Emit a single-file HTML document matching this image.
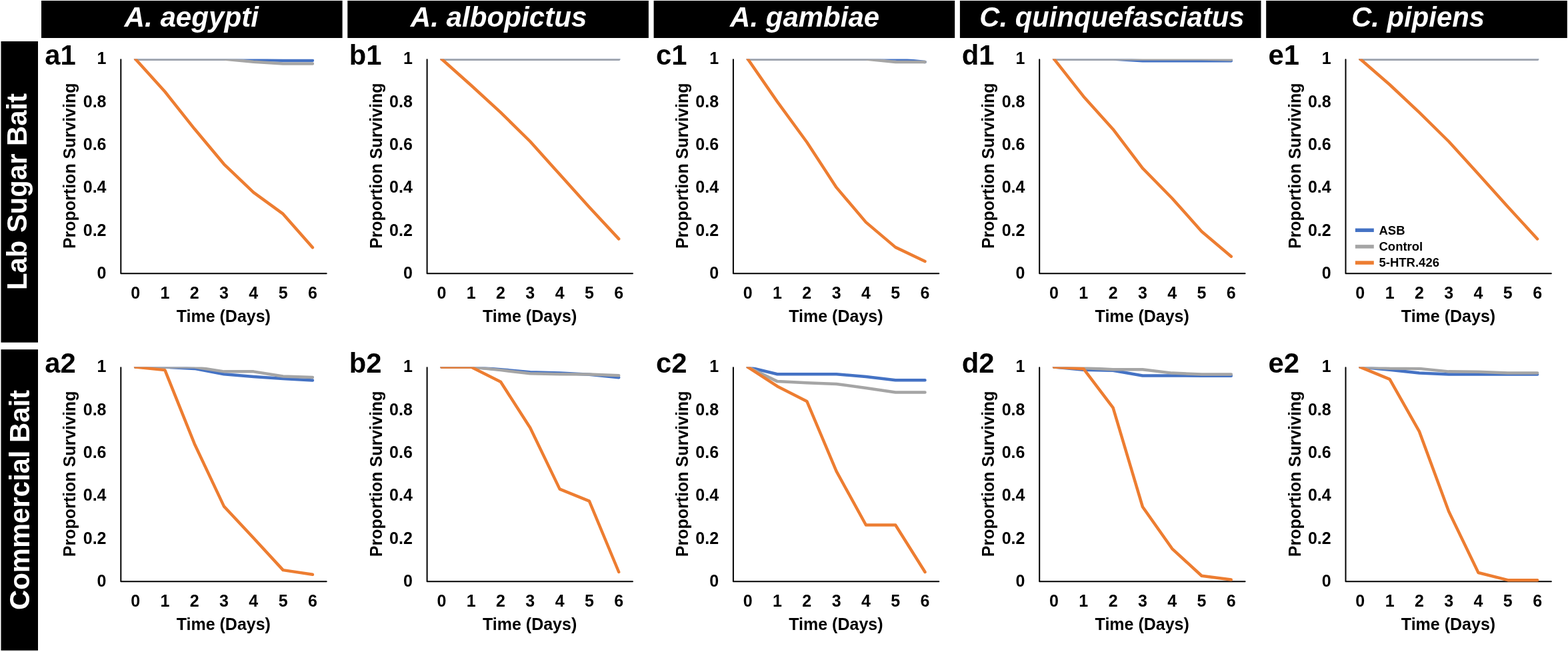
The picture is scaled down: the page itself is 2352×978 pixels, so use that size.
<!DOCTYPE html>
<html><head><meta charset="utf-8"><title>Survival of mosquito species on sugar baits</title>
<style>
html,body{margin:0;padding:0;background:#fff;overflow:hidden;}
svg{display:block;}
text{font-family:"Liberation Sans",Arial,sans-serif;font-weight:bold;fill:#000;}
.tk{font-size:25px;}
.tt{font-size:25px;}
.yt{font-size:25px;}
.pl{font-size:41.8px;}
.hd{font-size:42.3px;font-style:italic;fill:#fff;}
.sd{font-size:41.8px;fill:#fff;}
.lg{font-size:18.5px;}
.ser{fill:none;stroke-width:4.5;stroke-linecap:round;stroke-linejoin:round;}
.ax{fill:none;stroke:#000;stroke-width:2;stroke-linecap:round;stroke-linejoin:round;}
</style></head><body>
<svg width="2352" height="978" viewBox="0 0 2352 978">
<defs><clipPath id="pc"><rect x="170" y="88.45" width="340" height="340"/></clipPath></defs>
<rect width="2352" height="978" fill="#fff"/>
<rect x="62" y="1" width="451.6" height="56" fill="#000"/>
<text class="hd" x="287.3" y="40" text-anchor="middle" textLength="201.5" lengthAdjust="spacingAndGlyphs">A. aegypti</text>
<rect x="521.3" y="1" width="451.6" height="56" fill="#000"/>
<text class="hd" x="748.1" y="40" text-anchor="middle" textLength="264.7" lengthAdjust="spacingAndGlyphs">A. albopictus</text>
<rect x="980.6" y="1" width="451.6" height="56" fill="#000"/>
<text class="hd" x="1207.1" y="40" text-anchor="middle" textLength="224.0" lengthAdjust="spacingAndGlyphs">A. gambiae</text>
<rect x="1439.9" y="1" width="451.6" height="56" fill="#000"/>
<text class="hd" x="1667.95" y="40" text-anchor="middle" textLength="397.2" lengthAdjust="spacingAndGlyphs">C. quinquefasciatus</text>
<rect x="1899.2" y="1" width="451.6" height="56" fill="#000"/>
<text class="hd" x="2127.05" y="40" text-anchor="middle" textLength="199.8" lengthAdjust="spacingAndGlyphs">C. pipiens</text>
<rect x="1.5" y="62" width="55.5" height="451.7" fill="#000"/>
<rect x="1.5" y="524.2" width="55.5" height="451.5" fill="#000"/>
<text class="sd" transform="translate(40.2 287.5) rotate(-90)" text-anchor="middle">Lab Sugar Bait</text>
<text class="sd" transform="translate(44.2 750) rotate(-90)" text-anchor="middle">Commercial Bait</text>
<g transform="translate(0 0)">
<text class="pl" x="67.3" y="97.3">a1</text>
<text class="tk" x="159.5" y="417.9" text-anchor="end">0</text>
<text class="tk" x="159.5" y="353.55" text-anchor="end">0.2</text>
<text class="tk" x="159.5" y="289.2" text-anchor="end">0.4</text>
<text class="tk" x="159.5" y="224.85" text-anchor="end">0.6</text>
<text class="tk" x="159.5" y="160.5" text-anchor="end">0.8</text>
<text class="tk" x="159.5" y="96.15" text-anchor="end">1</text>
<text class="tk" x="203.1" y="448.3" text-anchor="middle">0</text>
<text class="tk" x="247.4" y="448.3" text-anchor="middle">1</text>
<text class="tk" x="291.7" y="448.3" text-anchor="middle">2</text>
<text class="tk" x="336" y="448.3" text-anchor="middle">3</text>
<text class="tk" x="380.3" y="448.3" text-anchor="middle">4</text>
<text class="tk" x="424.6" y="448.3" text-anchor="middle">5</text>
<text class="tk" x="468.9" y="448.3" text-anchor="middle">6</text>
<text class="tt" x="335.3" y="483" text-anchor="middle">Time (Days)</text>
<text class="yt" transform="translate(113.3 248.8) rotate(-90)" text-anchor="middle">Proportion Surviving</text>
<path class="ax" d="M181.3 89.2V410.2H489.7"/>
<g clip-path="url(#pc)">
<polyline class="ser" stroke="#4472C4" points="203.1,88.45 247.4,88.45 291.7,88.45 336,88.45 380.3,89.82 424.6,90.78 468.9,90.78"/>
<polyline class="ser" stroke="#A5A5A5" points="203.1,88.45 247.4,88.45 291.7,88.45 336,88.45 380.3,92.7 424.6,95.59 468.9,95.59"/>
<polyline class="ser" stroke="#ED7D31" points="203.1,88.45 247.4,137.48 291.7,193.31 336,246.3 380.3,288.61 424.6,320.91 468.9,371.2"/>
</g>
</g>
<g transform="translate(459.3 0)">
<text class="pl" x="64.5" y="97.3">b1</text>
<text class="tk" x="159.5" y="417.9" text-anchor="end">0</text>
<text class="tk" x="159.5" y="353.55" text-anchor="end">0.2</text>
<text class="tk" x="159.5" y="289.2" text-anchor="end">0.4</text>
<text class="tk" x="159.5" y="224.85" text-anchor="end">0.6</text>
<text class="tk" x="159.5" y="160.5" text-anchor="end">0.8</text>
<text class="tk" x="159.5" y="96.15" text-anchor="end">1</text>
<text class="tk" x="203.1" y="448.3" text-anchor="middle">0</text>
<text class="tk" x="247.4" y="448.3" text-anchor="middle">1</text>
<text class="tk" x="291.7" y="448.3" text-anchor="middle">2</text>
<text class="tk" x="336" y="448.3" text-anchor="middle">3</text>
<text class="tk" x="380.3" y="448.3" text-anchor="middle">4</text>
<text class="tk" x="424.6" y="448.3" text-anchor="middle">5</text>
<text class="tk" x="468.9" y="448.3" text-anchor="middle">6</text>
<text class="tt" x="335.3" y="483" text-anchor="middle">Time (Days)</text>
<text class="yt" transform="translate(113.3 248.8) rotate(-90)" text-anchor="middle">Proportion Surviving</text>
<path class="ax" d="M181.3 89.2V410.2H489.7"/>
<g clip-path="url(#pc)">
<polyline class="ser" stroke="#4472C4" points="203.1,88.45 247.4,88.45 291.7,88.45 336,88.45 380.3,88.45 424.6,88.45 468.9,88.45"/>
<polyline class="ser" stroke="#A5A5A5" points="203.1,88.45 247.4,88.45 291.7,88.45 336,88.45 380.3,88.45 424.6,88.45 468.9,88.45"/>
<polyline class="ser" stroke="#ED7D31" points="203.1,88.45 247.4,127.96 291.7,168.66 336,212.25 380.3,261.61 424.6,310.64 468.9,358.4"/>
</g>
</g>
<g transform="translate(918.6 0)">
<text class="pl" x="65.4" y="97.3">c1</text>
<text class="tk" x="159.5" y="417.9" text-anchor="end">0</text>
<text class="tk" x="159.5" y="353.55" text-anchor="end">0.2</text>
<text class="tk" x="159.5" y="289.2" text-anchor="end">0.4</text>
<text class="tk" x="159.5" y="224.85" text-anchor="end">0.6</text>
<text class="tk" x="159.5" y="160.5" text-anchor="end">0.8</text>
<text class="tk" x="159.5" y="96.15" text-anchor="end">1</text>
<text class="tk" x="203.1" y="448.3" text-anchor="middle">0</text>
<text class="tk" x="247.4" y="448.3" text-anchor="middle">1</text>
<text class="tk" x="291.7" y="448.3" text-anchor="middle">2</text>
<text class="tk" x="336" y="448.3" text-anchor="middle">3</text>
<text class="tk" x="380.3" y="448.3" text-anchor="middle">4</text>
<text class="tk" x="424.6" y="448.3" text-anchor="middle">5</text>
<text class="tk" x="468.9" y="448.3" text-anchor="middle">6</text>
<text class="tt" x="335.3" y="483" text-anchor="middle">Time (Days)</text>
<text class="yt" transform="translate(113.3 248.8) rotate(-90)" text-anchor="middle">Proportion Surviving</text>
<path class="ax" d="M181.3 89.2V410.2H489.7"/>
<g clip-path="url(#pc)">
<polyline class="ser" stroke="#4472C4" points="203.1,88.45 247.4,88.45 291.7,88.45 336,88.45 380.3,88.45 424.6,88.45 468.9,93.02"/>
<polyline class="ser" stroke="#A5A5A5" points="203.1,88.45 247.4,88.45 291.7,88.45 336,88.45 380.3,88.45 424.6,93.03 468.9,93.03"/>
<polyline class="ser" stroke="#ED7D31" points="203.1,88.45 247.4,152.64 291.7,213.21 336,281.16 380.3,333.4 424.6,370.9 468.9,392.05"/>
</g>
</g>
<g transform="translate(1377.9 0)">
<text class="pl" x="64.8" y="97.3">d1</text>
<text class="tk" x="159.5" y="417.9" text-anchor="end">0</text>
<text class="tk" x="159.5" y="353.55" text-anchor="end">0.2</text>
<text class="tk" x="159.5" y="289.2" text-anchor="end">0.4</text>
<text class="tk" x="159.5" y="224.85" text-anchor="end">0.6</text>
<text class="tk" x="159.5" y="160.5" text-anchor="end">0.8</text>
<text class="tk" x="159.5" y="96.15" text-anchor="end">1</text>
<text class="tk" x="203.1" y="448.3" text-anchor="middle">0</text>
<text class="tk" x="247.4" y="448.3" text-anchor="middle">1</text>
<text class="tk" x="291.7" y="448.3" text-anchor="middle">2</text>
<text class="tk" x="336" y="448.3" text-anchor="middle">3</text>
<text class="tk" x="380.3" y="448.3" text-anchor="middle">4</text>
<text class="tk" x="424.6" y="448.3" text-anchor="middle">5</text>
<text class="tk" x="468.9" y="448.3" text-anchor="middle">6</text>
<text class="tt" x="335.3" y="483" text-anchor="middle">Time (Days)</text>
<text class="yt" transform="translate(113.3 248.8) rotate(-90)" text-anchor="middle">Proportion Surviving</text>
<path class="ax" d="M181.3 89.2V410.2H489.7"/>
<g clip-path="url(#pc)">
<polyline class="ser" stroke="#4472C4" points="203.1,88.45 247.4,88.45 291.7,88.45 336,91.35 380.3,91.35 424.6,91.35 468.9,91.35"/>
<polyline class="ser" stroke="#A5A5A5" points="203.1,88.45 247.4,88.45 291.7,88.45 336,88.45 380.3,88.45 424.6,88.45 468.9,89.42"/>
<polyline class="ser" stroke="#ED7D31" points="203.1,88.45 247.4,144.63 291.7,193.98 336,252.31 380.3,297.5 424.6,347.18 468.9,384.68"/>
</g>
</g>
<g transform="translate(1837.2 0)">
<text class="pl" x="65.3" y="97.3">e1</text>
<text class="tk" x="159.5" y="417.9" text-anchor="end">0</text>
<text class="tk" x="159.5" y="353.55" text-anchor="end">0.2</text>
<text class="tk" x="159.5" y="289.2" text-anchor="end">0.4</text>
<text class="tk" x="159.5" y="224.85" text-anchor="end">0.6</text>
<text class="tk" x="159.5" y="160.5" text-anchor="end">0.8</text>
<text class="tk" x="159.5" y="96.15" text-anchor="end">1</text>
<text class="tk" x="203.1" y="448.3" text-anchor="middle">0</text>
<text class="tk" x="247.4" y="448.3" text-anchor="middle">1</text>
<text class="tk" x="291.7" y="448.3" text-anchor="middle">2</text>
<text class="tk" x="336" y="448.3" text-anchor="middle">3</text>
<text class="tk" x="380.3" y="448.3" text-anchor="middle">4</text>
<text class="tk" x="424.6" y="448.3" text-anchor="middle">5</text>
<text class="tk" x="468.9" y="448.3" text-anchor="middle">6</text>
<text class="tt" x="335.3" y="483" text-anchor="middle">Time (Days)</text>
<text class="yt" transform="translate(113.3 248.8) rotate(-90)" text-anchor="middle">Proportion Surviving</text>
<path class="ax" d="M181.3 89.2V410.2H489.7"/>
<g clip-path="url(#pc)">
<polyline class="ser" stroke="#4472C4" points="203.1,88.45 247.4,88.45 291.7,88.45 336,88.45 380.3,88.45 424.6,88.45 468.9,88.45"/>
<polyline class="ser" stroke="#A5A5A5" points="203.1,88.45 247.4,88.45 291.7,88.45 336,88.45 380.3,88.45 424.6,88.45 468.9,88.45"/>
<polyline class="ser" stroke="#ED7D31" points="203.1,88.45 247.4,127 291.7,168.66 336,212.25 380.3,260.97 424.6,310.32 468.9,358.4"/>
</g>
</g>
<g transform="translate(0 462.1)">
<text class="pl" x="67.3" y="97.3">a2</text>
<text class="tk" x="159.5" y="417.9" text-anchor="end">0</text>
<text class="tk" x="159.5" y="353.55" text-anchor="end">0.2</text>
<text class="tk" x="159.5" y="289.2" text-anchor="end">0.4</text>
<text class="tk" x="159.5" y="224.85" text-anchor="end">0.6</text>
<text class="tk" x="159.5" y="160.5" text-anchor="end">0.8</text>
<text class="tk" x="159.5" y="96.15" text-anchor="end">1</text>
<text class="tk" x="203.1" y="448.3" text-anchor="middle">0</text>
<text class="tk" x="247.4" y="448.3" text-anchor="middle">1</text>
<text class="tk" x="291.7" y="448.3" text-anchor="middle">2</text>
<text class="tk" x="336" y="448.3" text-anchor="middle">3</text>
<text class="tk" x="380.3" y="448.3" text-anchor="middle">4</text>
<text class="tk" x="424.6" y="448.3" text-anchor="middle">5</text>
<text class="tk" x="468.9" y="448.3" text-anchor="middle">6</text>
<text class="tt" x="335.3" y="483" text-anchor="middle">Time (Days)</text>
<text class="yt" transform="translate(113.3 248.8) rotate(-90)" text-anchor="middle">Proportion Surviving</text>
<path class="ax" d="M181.3 89.2V410.2H489.7"/>
<g clip-path="url(#pc)">
<polyline class="ser" stroke="#4472C4" points="203.1,88.45 247.4,88.45 291.7,90.78 336,99.12 380.3,102.96 424.6,105.85 468.9,108.41"/>
<polyline class="ser" stroke="#A5A5A5" points="203.1,88.45 247.4,88.45 291.7,88.45 336,95.27 380.3,95.27 424.6,102.32 468.9,103.92"/>
<polyline class="ser" stroke="#ED7D31" points="203.1,88.45 247.4,93.03 291.7,203.6 336,297.5 380.3,344.94 424.6,393.01 468.9,399.74"/>
</g>
</g>
<g transform="translate(459.3 462.1)">
<text class="pl" x="64.5" y="97.3">b2</text>
<text class="tk" x="159.5" y="417.9" text-anchor="end">0</text>
<text class="tk" x="159.5" y="353.55" text-anchor="end">0.2</text>
<text class="tk" x="159.5" y="289.2" text-anchor="end">0.4</text>
<text class="tk" x="159.5" y="224.85" text-anchor="end">0.6</text>
<text class="tk" x="159.5" y="160.5" text-anchor="end">0.8</text>
<text class="tk" x="159.5" y="96.15" text-anchor="end">1</text>
<text class="tk" x="203.1" y="448.3" text-anchor="middle">0</text>
<text class="tk" x="247.4" y="448.3" text-anchor="middle">1</text>
<text class="tk" x="291.7" y="448.3" text-anchor="middle">2</text>
<text class="tk" x="336" y="448.3" text-anchor="middle">3</text>
<text class="tk" x="380.3" y="448.3" text-anchor="middle">4</text>
<text class="tk" x="424.6" y="448.3" text-anchor="middle">5</text>
<text class="tk" x="468.9" y="448.3" text-anchor="middle">6</text>
<text class="tt" x="335.3" y="483" text-anchor="middle">Time (Days)</text>
<text class="yt" transform="translate(113.3 248.8) rotate(-90)" text-anchor="middle">Proportion Surviving</text>
<path class="ax" d="M181.3 89.2V410.2H489.7"/>
<g clip-path="url(#pc)">
<polyline class="ser" stroke="#4472C4" points="203.1,88.45 247.4,88.45 291.7,92.06 336,96.23 380.3,97.51 424.6,99.76 468.9,104.24"/>
<polyline class="ser" stroke="#A5A5A5" points="203.1,88.45 247.4,88.45 291.7,93.03 336,98.15 380.3,99.12 424.6,99.44 468.9,101.04"/>
<polyline class="ser" stroke="#ED7D31" points="203.1,88.45 247.4,88.45 291.7,110.65 336,179.56 380.3,271.54 424.6,289.49 468.9,395.9"/>
</g>
</g>
<g transform="translate(918.6 462.1)">
<text class="pl" x="65.4" y="97.3">c2</text>
<text class="tk" x="159.5" y="417.9" text-anchor="end">0</text>
<text class="tk" x="159.5" y="353.55" text-anchor="end">0.2</text>
<text class="tk" x="159.5" y="289.2" text-anchor="end">0.4</text>
<text class="tk" x="159.5" y="224.85" text-anchor="end">0.6</text>
<text class="tk" x="159.5" y="160.5" text-anchor="end">0.8</text>
<text class="tk" x="159.5" y="96.15" text-anchor="end">1</text>
<text class="tk" x="203.1" y="448.3" text-anchor="middle">0</text>
<text class="tk" x="247.4" y="448.3" text-anchor="middle">1</text>
<text class="tk" x="291.7" y="448.3" text-anchor="middle">2</text>
<text class="tk" x="336" y="448.3" text-anchor="middle">3</text>
<text class="tk" x="380.3" y="448.3" text-anchor="middle">4</text>
<text class="tk" x="424.6" y="448.3" text-anchor="middle">5</text>
<text class="tk" x="468.9" y="448.3" text-anchor="middle">6</text>
<text class="tt" x="335.3" y="483" text-anchor="middle">Time (Days)</text>
<text class="yt" transform="translate(113.3 248.8) rotate(-90)" text-anchor="middle">Proportion Surviving</text>
<path class="ax" d="M181.3 89.2V410.2H489.7"/>
<g clip-path="url(#pc)">
<polyline class="ser" stroke="#4472C4" points="203.1,88.45 247.4,99.12 291.7,99.12 336,99.12 380.3,102.96 424.6,108.09 468.9,108.09"/>
<polyline class="ser" stroke="#A5A5A5" points="203.1,88.45 247.4,110.01 291.7,112.26 336,113.86 380.3,119.95 424.6,126.36 468.9,126.36"/>
<polyline class="ser" stroke="#ED7D31" points="203.1,88.45 247.4,117.38 291.7,139.83 336,244.82 380.3,325.39 424.6,325.39 468.9,395.88"/>
</g>
</g>
<g transform="translate(1377.9 462.1)">
<text class="pl" x="64.8" y="97.3">d2</text>
<text class="tk" x="159.5" y="417.9" text-anchor="end">0</text>
<text class="tk" x="159.5" y="353.55" text-anchor="end">0.2</text>
<text class="tk" x="159.5" y="289.2" text-anchor="end">0.4</text>
<text class="tk" x="159.5" y="224.85" text-anchor="end">0.6</text>
<text class="tk" x="159.5" y="160.5" text-anchor="end">0.8</text>
<text class="tk" x="159.5" y="96.15" text-anchor="end">1</text>
<text class="tk" x="203.1" y="448.3" text-anchor="middle">0</text>
<text class="tk" x="247.4" y="448.3" text-anchor="middle">1</text>
<text class="tk" x="291.7" y="448.3" text-anchor="middle">2</text>
<text class="tk" x="336" y="448.3" text-anchor="middle">3</text>
<text class="tk" x="380.3" y="448.3" text-anchor="middle">4</text>
<text class="tk" x="424.6" y="448.3" text-anchor="middle">5</text>
<text class="tk" x="468.9" y="448.3" text-anchor="middle">6</text>
<text class="tt" x="335.3" y="483" text-anchor="middle">Time (Days)</text>
<text class="yt" transform="translate(113.3 248.8) rotate(-90)" text-anchor="middle">Proportion Surviving</text>
<path class="ax" d="M181.3 89.2V410.2H489.7"/>
<g clip-path="url(#pc)">
<polyline class="ser" stroke="#4472C4" points="203.1,88.45 247.4,92.7 291.7,93.67 336,101.36 380.3,101.36 424.6,101.68 468.9,101.68"/>
<polyline class="ser" stroke="#A5A5A5" points="203.1,88.45 247.4,89.82 291.7,92.06 336,92.06 380.3,97.51 424.6,99.44 468.9,99.44"/>
<polyline class="ser" stroke="#ED7D31" points="203.1,88.45 247.4,91.1 291.7,149.43 336,298.15 380.3,360.96 424.6,401.67 468.9,407.44"/>
</g>
</g>
<g transform="translate(1837.2 462.1)">
<text class="pl" x="65.3" y="97.3">e2</text>
<text class="tk" x="159.5" y="417.9" text-anchor="end">0</text>
<text class="tk" x="159.5" y="353.55" text-anchor="end">0.2</text>
<text class="tk" x="159.5" y="289.2" text-anchor="end">0.4</text>
<text class="tk" x="159.5" y="224.85" text-anchor="end">0.6</text>
<text class="tk" x="159.5" y="160.5" text-anchor="end">0.8</text>
<text class="tk" x="159.5" y="96.15" text-anchor="end">1</text>
<text class="tk" x="203.1" y="448.3" text-anchor="middle">0</text>
<text class="tk" x="247.4" y="448.3" text-anchor="middle">1</text>
<text class="tk" x="291.7" y="448.3" text-anchor="middle">2</text>
<text class="tk" x="336" y="448.3" text-anchor="middle">3</text>
<text class="tk" x="380.3" y="448.3" text-anchor="middle">4</text>
<text class="tk" x="424.6" y="448.3" text-anchor="middle">5</text>
<text class="tk" x="468.9" y="448.3" text-anchor="middle">6</text>
<text class="tt" x="335.3" y="483" text-anchor="middle">Time (Days)</text>
<text class="yt" transform="translate(113.3 248.8) rotate(-90)" text-anchor="middle">Proportion Surviving</text>
<path class="ax" d="M181.3 89.2V410.2H489.7"/>
<g clip-path="url(#pc)">
<polyline class="ser" stroke="#4472C4" points="203.1,88.45 247.4,92.7 291.7,97.51 336,99.44 380.3,99.44 424.6,99.44 468.9,99.44"/>
<polyline class="ser" stroke="#A5A5A5" points="203.1,88.45 247.4,90.46 291.7,90.78 336,95.27 380.3,95.59 424.6,97.51 468.9,97.51"/>
<polyline class="ser" stroke="#ED7D31" points="203.1,88.45 247.4,106.81 291.7,185.01 336,305.2 380.3,396.86 424.6,408.08 468.9,408.08"/>
</g>
</g>
<line x1="2032.9" y1="345.3" x2="2060.8" y2="345.3" stroke="#4472C4" stroke-width="5.5"/>
<text class="lg" x="2068.5" y="351.5">ASB</text>
<line x1="2032.9" y1="369.9" x2="2060.8" y2="369.9" stroke="#A5A5A5" stroke-width="5.5"/>
<text class="lg" x="2068.5" y="376.1">Control</text>
<line x1="2032.9" y1="394.1" x2="2060.8" y2="394.1" stroke="#ED7D31" stroke-width="5.5"/>
<text class="lg" x="2068.5" y="400.2">5-HTR.426</text>
</svg>
</body></html>
